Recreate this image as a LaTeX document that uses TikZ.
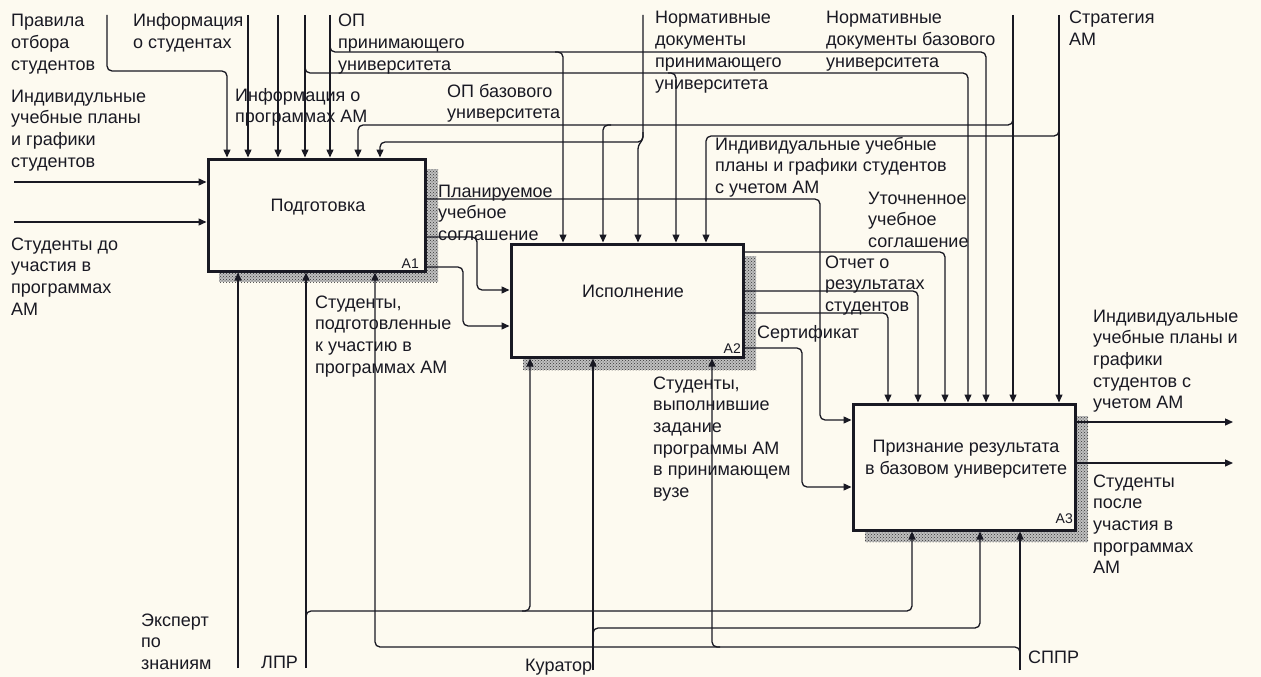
\documentclass[tikz,border=0pt]{standalone}
\usepackage{fontspec}
\setmainfont{Liberation Sans}
\usetikzlibrary{arrows.meta,patterns}
\definecolor{bg}{RGB}{253,250,240}
\definecolor{ink}{RGB}{25,25,35}
\begin{document}
\begin{tikzpicture}[x=1pt,y=-1pt,
  conn/.style={line width=1.3pt, rounded corners=5pt, draw=ink},
  arr/.style={conn, -{Triangle[length=8pt,width=7pt]}},
  lbl/.style={font=\fontsize{18}{21.7}\selectfont, align=left, anchor=base west, inner sep=0pt, text=ink},
  boxt/.style={font=\fontsize{18}{21.7}\selectfont, align=center, anchor=base, inner sep=0pt, text=ink},
  num/.style={font=\fontsize{14}{16}\selectfont, anchor=base east, inner sep=0pt, text=ink},
  fn/.style={draw=ink, line width=3pt, fill=bg, inner sep=0pt},
  shadowfill/.style={fill=black!25, postaction={pattern=crosshatch dots, pattern color=black!80}}]

\useasboundingbox (0,0) rectangle (1261,677);
\fill[bg] (0,0) rectangle (1261,677);

% shadows
\path[shadowfill] (219,169) rectangle (438,282);
\path[shadowfill] (523,256) rectangle (756,370);
\path[shadowfill] (865,416) rectangle (1088,542);

% function boxes
\node[fn, minimum width=217pt, minimum height=112pt] (A1) at (316.5,215) {};
\node[fn, minimum width=232pt, minimum height=113pt] (A2) at (627,300.5) {};
\node[fn, minimum width=222pt, minimum height=126pt] (A3) at (964,467) {};

\node[boxt] (t1) at (318,211.5) {Подготовка};
\node[boxt] (t2) at (633,297) {Исполнение};
\node[boxt] (t3) at (966,474) {Признание результата\\в базовом университете};
\node[num] (n1) at (419,268) {A1};
\node[num] (n2) at (741,353) {A2};
\node[num] (n3) at (1073,523) {A3};

% free ends
\coordinate (in1) at (14,182);
\coordinate (in2) at (14,222);
\coordinate (c1) at (107,15);
\coordinate (c2) at (248,15);
\coordinate (c3) at (278,15);
\coordinate (c4) at (305,15);
\coordinate (c5) at (330,15);
\coordinate (c6) at (643,15);
\coordinate (c7) at (1013,15);
\coordinate (c8) at (1059,15);
\coordinate (o1) at (1233,422);
\coordinate (o2) at (1233,463);
\coordinate (m1) at (238,668);
\coordinate (m2) at (306,668);
\coordinate (m3) at (593,670);
\coordinate (m4) at (1020,670);

% A1 inputs
\draw[arr] (in1) -- (A1.west |- in1);
\draw[arr] (in2) -- (A1.west |- in2);

% controls
\draw[arr] (c1) -- (107,71) -- (227,71) -- (227,0 |- A1.north);
\draw[arr] (c2) -- (c2 |- A1.north);
\draw[arr] (c3) -- (c3 |- A1.north);
\draw[arr] (c4) -- (c4 |- A1.north);
\draw[arr] (c5) -- (c5 |- A1.north);
\draw[arr] (305,62) -- (305,73) -- (968,73) -- (968,0 |- A3.north);
\draw[arr] (668,73) -- (676,73) -- (676,0 |- A2.north);
\draw[arr] (330,41) -- (330,52) -- (986,52) -- (986,0 |- A3.north);
\draw[arr] (555,52) -- (563,52) -- (563,0 |- A2.north);
\draw[arr] (c7) -- (c7 |- A3.north);
\draw[arr] (1013,114) -- (1013,125) -- (358,125) -- (358,0 |- A1.north);
\draw[arr] (611,125) -- (603,125) -- (603,0 |- A2.north);
\draw[arr] (c6) -- (643,142) -- (380,142) -- (380,0 |- A1.north);
\draw[arr, rounded corners=3pt] (643,132) -- (643,139) -- (638,146) -- (638,0 |- A2.north);
\draw[arr] (c8) -- (c8 |- A3.north);
\draw[arr] (1059,125) -- (1059,136) -- (706,136) -- (706,0 |- A2.north);

% A1 outputs
\draw[arr] (A1.east |- 0,199) -- (820,199) -- (820,420) -- (A3.west |- 0,420);
\draw[arr] (A1.east |- 0,237) -- (477,237) -- (477,290) -- (A2.west |- 0,290);
\draw[arr] (A1.east |- 0,267) -- (463,267) -- (463,326) -- (A2.west |- 0,326);

% A2 outputs
\draw[arr] (A2.east |- 0,252) -- (945,252) -- (945,0 |- A3.north);
\draw[arr] (A2.east |- 0,291) -- (918,291) -- (918,0 |- A3.north);
\draw[arr] (A2.east |- 0,313) -- (888,313) -- (888,0 |- A3.north);
\draw[arr] (A2.east |- 0,348) -- (802,348) -- (802,487) -- (A3.west |- 0,487);

% A3 outputs
\draw[arr] (A3.east |- o1) -- (o1);
\draw[arr] (A3.east |- o2) -- (o2);

% mechanisms
\draw[arr] (m1) -- (m1 |- A1.south);
\draw[arr] (m2) -- (m2 |- A1.south);
\draw[arr] (306,622) -- (306,611) -- (912,611) -- (912,0 |- A3.south);
\draw[arr] (522,611) -- (530,611) -- (530,0 |- A2.south);
\draw[arr] (m3) -- (m3 |- A2.south);
\draw[arr] (593,639) -- (593,628) -- (980,628) -- (980,0 |- A3.south);
\draw[arr] (m4) -- (m4 |- A3.south);
\draw[arr] (1020,660) -- (1020,647) -- (375,647) -- (375,0 |- A1.south);
\draw[arr] (720,647) -- (712,647) -- (712,0 |- A2.south);

% labels (anchor = baseline of the last line)
\node[lbl] (l1) at (11,70.4) {Правила\\отбора\\студентов};
\node[lbl] (l2) at (133,48.7) {Информация\\о студентах};
\node[lbl] (l3) at (338,70.4) {ОП\\принимающего\\университета};
\node[lbl] (l4) at (11,167.1) {Индивидульные\\учебные планы\\и графики\\студентов};
\node[lbl] (l5) at (235,122.7) {Информация о\\программах АМ};
\node[lbl] (l6) at (447,118.7) {ОП базового\\университета};
\node[lbl] (l7) at (655,89.1) {Нормативные\\документы\\принимающего\\университета};
\node[lbl] (l8) at (826,67.4) {Нормативные\\документы базового\\университета};
\node[lbl] (l9) at (1069,45.7) {Стратегия\\АМ};
\node[lbl] (l10) at (715,193.4) {Индивидуальные учебные\\планы и графики студентов\\с учетом АМ};
\node[lbl] (l11) at (868,247.4) {Уточненное\\учебное\\соглашение};
\node[lbl] (l12) at (438,240.4) {Планируемое\\учебное\\соглашение};
\node[lbl] (l13) at (11,315.1) {Студенты до\\участия в\\программах\\АМ};
\node[lbl] (l14) at (315,373.1) {Студенты,\\подготовленные\\к участию в\\программах АМ};
\node[lbl] (l15) at (825,311.4) {Отчет о\\результатах\\студентов};
\node[lbl] (l16) at (757,338) {Сертификат};
\node[lbl] (l17) at (653,497.5) {Студенты,\\выполнившие\\задание\\программы АМ\\в принимающем\\вузе};
\node[lbl] (l18) at (1093,408.8) {Индивидуальные\\учебные планы и\\графики\\студентов с\\учетом АМ};
\node[lbl] (l19) at (1093,573.8) {Студенты\\после\\участия в\\программах\\АМ};
\node[lbl] (l20) at (141,669.4) {Эксперт\\по\\знаниям};
\node[lbl] (l21) at (261,668) {ЛПР};
\node[lbl] (l22) at (525,671) {Куратор};
\node[lbl] (l23) at (1028,663) {СППР};
\end{tikzpicture}
\end{document}
